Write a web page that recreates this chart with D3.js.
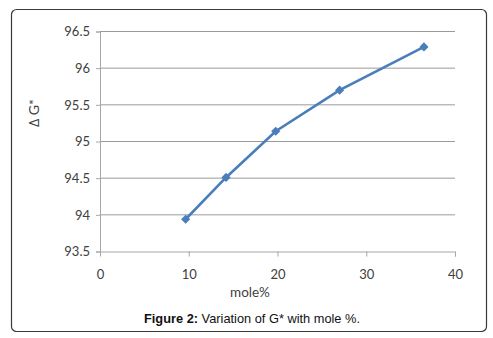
<!DOCTYPE html>
<html>
<head>
<meta charset="utf-8">
<script src="https://cdn.jsdelivr.net/npm/d3@7"></script>
<style>
  body { margin: 0; background: #fff; }
  svg { display: block; }
</style>
</head>
<body>
<svg id="chart" width="493" height="338"></svg>
<script>
// Data
const molePct = [9.65, 14.2, 19.8, 27.0, 36.5];
const deltaG = [93.94, 94.51, 95.14, 95.70, 96.29];
const xTicks = [0, 10, 20, 30, 40];
const yTicks = [93.5, 94, 94.5, 95, 95.5, 96, 96.5];

const svg = d3.select("#chart");
const margin = { top: 31.5, right: 38, bottom: 86.5, left: 100 };
const width = +svg.attr("width") - margin.left - margin.right;
const height = +svg.attr("height") - margin.top - margin.bottom;

// Outer frame
svg.append("rect")
    .attr("x", 11.5).attr("y", 9.5)
    .attr("width", 475).attr("height", 322)
    .attr("rx", 5)
    .attr("fill", "#fff")
    .attr("stroke", "#3a3a3a")
    .attr("stroke-width", 1.2);

const x = d3.scaleLinear().domain([0, 40]).range([0, width]);
const y = d3.scaleLinear().domain([93.5, 96.5]).range([height, 0]);

const g = svg.append("g").attr("transform", `translate(${margin.left},${margin.top})`);

// Gridlines
g.selectAll(".grid")
    .data(yTicks.slice(1))
    .enter().append("line")
    .attr("class", "grid")
    .attr("x1", 0).attr("x2", width)
    .attr("y1", d => y(d)).attr("y2", d => y(d))
    .attr("stroke", "#9a9a9a")
    .attr("stroke-width", 1);

// Axes
const yAxis = g.append("g")
    .call(d3.axisLeft(y).tickValues(yTicks).tickSize(4).tickPadding(6).tickFormat(d3.format("")));
const xAxis = g.append("g")
    .attr("transform", `translate(0,${height})`)
    .call(d3.axisBottom(x).tickValues(xTicks).tickSize(5).tickPadding(13));

[yAxis, xAxis].forEach(a => {
    a.select(".domain").attr("stroke", "#a6a6a6");
    a.selectAll(".tick line").attr("stroke", "#a6a6a6");
    a.selectAll("text")
        .attr("fill", "#404040")
        .style("font-family", "Lato, 'Open Sans', sans-serif")
        .style("font-size", "13px");
});
xAxis.select(".tick line").remove();

// Line and markers
const pts = molePct.map((m, i) => ({ m: m, v: deltaG[i] }));
g.append("path")
    .datum(pts)
    .attr("fill", "none")
    .attr("stroke", "#4a7ebb")
    .attr("stroke-width", 2.6)
    .attr("d", d3.line().x(d => x(d.m)).y(d => y(d.v)));

g.selectAll(".pt")
    .data(pts)
    .enter().append("path")
    .attr("class", "pt")
    .attr("transform", d => `translate(${x(d.m)},${y(d.v)}) rotate(45)`)
    .attr("d", d3.symbol().type(d3.symbolSquare).size(42))
    .attr("fill", "#4a7ebb");

// Axis titles
svg.append("text")
    .attr("transform", "translate(39,113) rotate(-90)")
    .attr("text-anchor", "middle")
    .attr("fill", "#404040")
    .style("font-family", "Lato, 'Open Sans', sans-serif")
    .style("font-size", "14px")
    .text("\u2206 G*");

svg.append("text")
    .attr("x", 250).attr("y", 297)
    .attr("text-anchor", "middle")
    .attr("fill", "#404040")
    .style("font-family", "Lato, 'Open Sans', sans-serif")
    .style("font-size", "13.5px")
    .text("mole%");

// Caption
const cap = svg.append("text")
    .attr("x", 252).attr("y", 323)
    .attr("text-anchor", "middle")
    .attr("fill", "#111")
    .style("font-family", "'Liberation Sans', Arial, sans-serif")
    .style("font-size", "12.8px");
cap.append("tspan").attr("font-weight", "bold").text("Figure 2:");
cap.append("tspan").text(" Variation of G* with mole %.");
</script>
</body>
</html>
